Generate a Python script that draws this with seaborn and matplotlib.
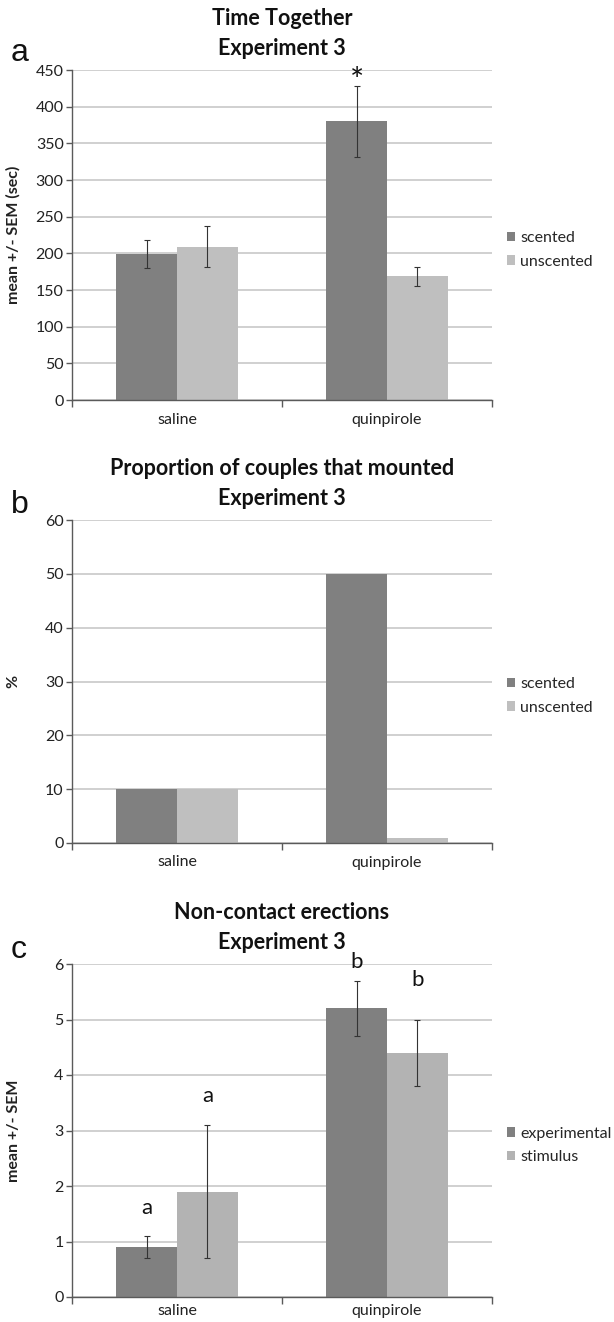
import matplotlib
matplotlib.use("Agg")
import matplotlib.pyplot as plt
from matplotlib.patches import Patch
from matplotlib.ticker import FixedLocator
import seaborn as sns
import pandas as pd

# ---- data ----
drugs = ["saline", "quinpirole"]

# (a) Time together
time_groups = ["scented", "unscented"]
time_mean = {"scented": [199, 380], "unscented": [209, 169]}
time_sem = {"scented": [19, 48], "unscented": [28, 13]}

# (b) Proportion of couples that mounted
mount_groups = ["scented", "unscented"]
mount_pct = {"scented": [10, 50], "unscented": [10, 1]}

# (c) Non-contact erections
nce_groups = ["experimental", "stimulus"]
nce_mean = {"experimental": [0.9, 5.2], "stimulus": [1.9, 4.4]}
nce_sem = {"experimental": [0.2, 0.5], "stimulus": [1.2, 0.6]}
nce_letters = {"experimental": ["a", "b"], "stimulus": ["a", "b"]}

DARK = "#808080"
LIGHT = "#bfbfbf"
LIGHT_C = "#b3b3b3"
GRID = "#c8c8c8"
SPINE = "#5a5a5a"

sns.set_theme(style="white")
plt.rcParams["font.family"] = ["Lato", "DejaVu Sans"]

fig = plt.figure(figsize=(6.14, 13.22), dpi=100)
W, H = 614.0, 1322.0


def rect(left, top, right, bottom):
    return [left / W, 1 - bottom / H, (right - left) / W, (bottom - top) / H]


def long_frame(groups, values):
    rows = []
    for g in groups:
        for d, v in zip(drugs, values[g]):
            rows.append({"drug": d, "group": g, "value": v})
    return pd.DataFrame(rows)


def draw_panel(ax, groups, values, colors, ymax, ystep, ylabel, title,
               sem=None, xpad=9):
    df = long_frame(groups, values)
    sns.barplot(data=df, x="drug", y="value", hue="group", order=drugs,
                hue_order=groups, palette=colors, width=0.58, gap=0,
                saturation=1, errorbar=None, legend=False, linewidth=0, ax=ax)
    ax.set_xlim(-0.5, 1.5)
    ax.set_ylim(0, ymax)
    ax.set_yticks([ystep * k for k in range(int(round(ymax / ystep)) + 1)])
    ax.yaxis.grid(True, color=GRID, linewidth=1.2)
    ax.set_axisbelow(True)
    for s in ("top", "right"):
        ax.spines[s].set_visible(False)
    for s in ("left", "bottom"):
        ax.spines[s].set_color(SPINE)
        ax.spines[s].set_linewidth(1.0)
    ax.tick_params(axis="y", which="major", direction="out", length=4,
                   width=1.0, color=SPINE, labelsize=11.5, pad=2,
                   labelcolor="#222222", left=True)
    ax.tick_params(axis="x", which="major", length=0, labelsize=11.5,
                   pad=xpad, labelcolor="#222222")
    ax.xaxis.set_minor_locator(FixedLocator([-0.5, 0.5, 1.5]))
    ax.tick_params(axis="x", which="minor", direction="out", length=5,
                   width=1.0, color=SPINE, bottom=True)
    ax.set_xlabel("")
    ax.set_ylabel(ylabel, fontsize=11.5, fontweight="bold", color="#222222")
    ax.yaxis.set_label_coords(-0.122, 0.5)
    ax.set_title(title, fontsize=15.5, fontweight="bold", linespacing=1.5,
                 pad=11, color="#111111")

    tops = {}
    if sem is not None:
        for g, cont in zip(groups, ax.containers):
            for j, bar in enumerate(cont):
                xc = bar.get_x() + bar.get_width() / 2
                m = values[g][j]
                e = sem[g][j]
                ax.errorbar(xc, m, yerr=e, fmt="none", ecolor="#333333",
                            elinewidth=0.8, capsize=2, capthick=0.8, zorder=5)
                tops[(g, j)] = (xc, m + e)

    handles = [Patch(facecolor=c, edgecolor="none", label=g)
               for g, c in zip(groups, colors)]
    ax.legend(handles=handles, loc="center left", bbox_to_anchor=(1.035, 0.455),
              frameon=False, fontsize=11.5, handlelength=0.5, handleheight=0.55,
              handletextpad=0.35, labelspacing=0.6, borderaxespad=0,
              borderpad=0)
    return tops


# (a)
ax_a = fig.add_axes(rect(72, 70, 492, 400))
tops_a = draw_panel(ax_a, time_groups, time_mean, [DARK, LIGHT], 450, 50,
                    "mean +/- SEM (sec)", "Time Together\nExperiment 3",
                    sem=time_sem)
xs, ytop = tops_a[("scented", 1)]
ax_a.annotate("*", (xs, ytop), xytext=(0, -8), textcoords="offset points",
              ha="center", va="bottom", fontsize=24, color="#111111")

# (b)
ax_b = fig.add_axes(rect(72, 520, 492, 843))
draw_panel(ax_b, mount_groups, mount_pct, [DARK, LIGHT], 60, 10, "%",
           "Proportion of couples that mounted\nExperiment 3")

# (c)
ax_c = fig.add_axes(rect(72, 964, 492, 1297))
tops_c = draw_panel(ax_c, nce_groups, nce_mean, [DARK, LIGHT_C], 6, 1,
                    "mean +/- SEM", "Non-contact erections\nExperiment 3",
                    sem=nce_sem, xpad=5)
letter_offsets = {("experimental", 0): 13, ("stimulus", 0): 14,
                  ("experimental", 1): 6, ("stimulus", 1): 21}
for g in nce_groups:
    for j in range(len(drugs)):
        xc, yt = tops_c[(g, j)]
        ax_c.annotate(nce_letters[g][j], (xc, yt),
                      xytext=(0, letter_offsets[(g, j)]),
                      textcoords="offset points", ha="center", va="bottom",
                      fontsize=16, color="#111111")

# panel letters
for letter, ybase in (("a", 61), ("b", 513), ("c", 958)):
    fig.text(11 / W, 1 - ybase / H, letter, fontsize=23, va="baseline",
             ha="left", family=["Liberation Sans", "DejaVu Sans"],
             color="#111111")

fig.savefig("out.png", dpi=100, facecolor="white")
